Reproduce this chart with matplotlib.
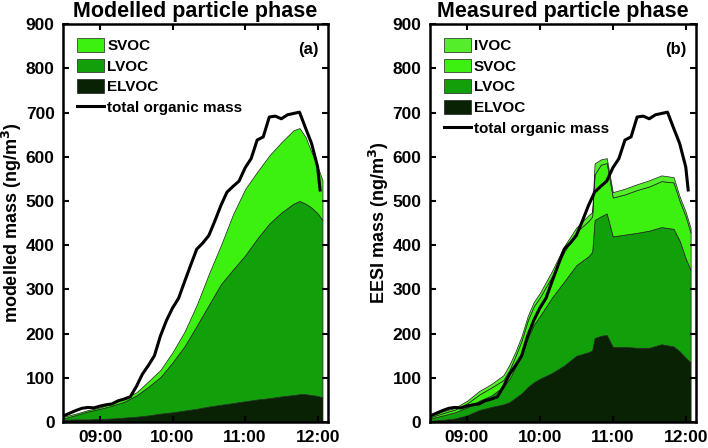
import numpy as np
import matplotlib
matplotlib.use("Agg")
import matplotlib.pyplot as plt

plt.rcParams["font.family"] = ["Liberation Sans", "DejaVu Sans"]
plt.rcParams["font.weight"] = "bold"


def hours(times):
    return np.array([int(t[:2]) + int(t[3:]) / 60 for t in times])


# total organic mass (same in both panels)
total_times = ["08:30", "08:35", "08:40", "08:45", "08:50", "08:55", "09:00", "09:05",
               "09:10", "09:15", "09:20", "09:25", "09:30", "09:35", "09:40", "09:45",
               "09:50", "09:55", "10:00", "10:05", "10:10", "10:15", "10:20", "10:25",
               "10:30", "10:35", "10:40", "10:45", "10:50", "10:55", "11:00", "11:05",
               "11:10", "11:15", "11:20", "11:25", "11:30", "11:35", "11:40", "11:45",
               "11:50", "11:55", "12:00", "12:02"]
total_mass = [14, 20, 26, 31, 33, 32, 36, 39, 41, 48, 52, 57, 80, 108, 128, 150,
              195, 230, 258, 280, 318, 355, 391, 405, 422, 455, 490, 520, 533, 545,
              575, 596, 638, 645, 690, 692, 686, 695, 698, 701, 665, 630, 577, 525]

# (a) modelled particle phase
model_times = ["08:30", "08:40", "08:50", "09:00", "09:10", "09:20", "09:30", "09:40",
               "09:50", "10:00", "10:10", "10:20", "10:30", "10:40", "10:50", "11:00",
               "11:10", "11:20", "11:30", "11:40", "11:45", "11:50", "11:55", "12:00",
               "12:04"]
model_elvoc = [5, 6, 6, 7, 8, 10, 12, 15, 19, 22, 26, 30, 35, 39, 43, 47,
               51, 54, 58, 61, 63, 63, 61, 59, 56]
model_lvoc = [3, 10, 18, 23, 29, 36, 48, 65, 83, 113, 146, 188, 230, 273, 302, 330,
              364, 395, 416, 433, 437, 431, 424, 413, 401]
model_svoc = [4, 3, 3, 3, 5, 8, 7, 12, 16, 23, 33, 47, 70, 88, 125, 150,
              151, 154, 159, 166, 165, 151, 125, 106, 90]

# (b) measured particle phase (EESI)
meas_times = ["08:30", "08:40", "08:50", "09:00", "09:10", "09:20", "09:30", "09:35",
              "09:40", "09:45", "09:50", "09:55", "10:00", "10:10", "10:20", "10:30",
              "10:40", "10:43", "10:45", "10:50", "10:55", "11:00", "11:10", "11:20",
              "11:30", "11:40", "11:50", "11:55", "12:00", "12:04"]
meas_elvoc = [3, 5, 8, 15, 27, 34, 40, 45, 55, 65, 79, 90, 98, 111, 128, 150,
              158, 162, 190, 195, 197, 170, 170, 168, 168, 176, 171, 160, 145, 135]
meas_lvoc = [5, 10, 14, 18, 21, 26, 40, 53, 70, 85, 111, 130, 142, 171, 190, 205,
             217, 223, 267, 270, 275, 250, 254, 260, 265, 265, 266, 250, 225, 209]
meas_svoc = [3, 5, 6, 9, 14, 18, 15, 20, 25, 35, 40, 42, 42, 48, 67, 75,
             80, 80, 103, 117, 114, 88, 91, 97, 100, 104, 105, 90, 95, 84]
meas_ivoc = [3, 4, 4, 6, 8, 8, 11, 12, 10, 10, 10, 10, 10, 12, 13, 10,
             13, 10, 25, 12, 11, 12, 13, 13, 14, 13, 12, 10, 10, 11]

tick_hours = [9, 10, 11, 12]
tick_labels = ["09:00", "10:00", "11:00", "12:00"]

c_ivoc = "#55ee2a"
c_svoc = "#3cf010"
c_lvoc = "#12a00a"
c_elvoc = "#0a2204"

fig = plt.figure(figsize=(7.08, 4.48), dpi=100)
ax1 = fig.add_axes([0.089, 0.058, 0.374, 0.888])
ax2 = fig.add_axes([0.607, 0.058, 0.376, 0.888])

ax1.stackplot(hours(model_times), model_elvoc, model_lvoc, model_svoc,
              colors=[c_elvoc, c_lvoc, c_svoc], edgecolor="#202020", linewidth=0.5,
              labels=["ELVOC", "LVOC", "SVOC"])
ax1.plot(hours(total_times), total_mass, color="black", lw=2.2, label="total organic mass")

ax2.stackplot(hours(meas_times), meas_elvoc, meas_lvoc, meas_svoc, meas_ivoc,
              colors=[c_elvoc, c_lvoc, c_svoc, c_ivoc], edgecolor="#202020", linewidth=0.5,
              labels=["ELVOC", "LVOC", "SVOC", "IVOC"])
ax2.plot(hours(total_times), total_mass, color="black", lw=2.2, label="total organic mass")

for ax, title, ylabel, tag in [(ax1, "Modelled particle phase", "modelled mass (ng/m$^\\mathbf{3}$)", "(a)"),
                               (ax2, "Measured particle phase", "EESI mass (ng/m$^\\mathbf{3}$)", "(b)")]:
    ax.set_xlim(8.49, 12.14)
    ax.set_ylim(0, 900)
    ax.set_xticks(tick_hours)
    ax.set_xticklabels(tick_labels)
    ax.set_yticks(range(0, 901, 100))
    ax.tick_params(direction="in", length=4, width=1.5, labelsize=12.5, top=True, right=True, pad=6)
    for sp in ax.spines.values():
        sp.set_linewidth(1.8)
    ax.set_title(title, fontsize=15.5, fontweight="bold", pad=5)
    ax.set_ylabel(ylabel, fontsize=13, fontweight="bold", labelpad=1)
    ax.text(0.965, 0.955, tag, transform=ax.transAxes, ha="right", va="top",
            fontsize=12, fontweight="bold")
    handles, labels = ax.get_legend_handles_labels()
    order = list(range(len(handles) - 2, -1, -1)) + [len(handles) - 1]
    ax.legend([handles[i] for i in order], [labels[i] for i in order],
              loc="upper left", frameon=False, fontsize=11,
              handlelength=1.8, handleheight=1.0, handletextpad=0.2,
              labelspacing=0.37, borderaxespad=0.6, borderpad=0.3)

fig.savefig("out.png", dpi=100)
